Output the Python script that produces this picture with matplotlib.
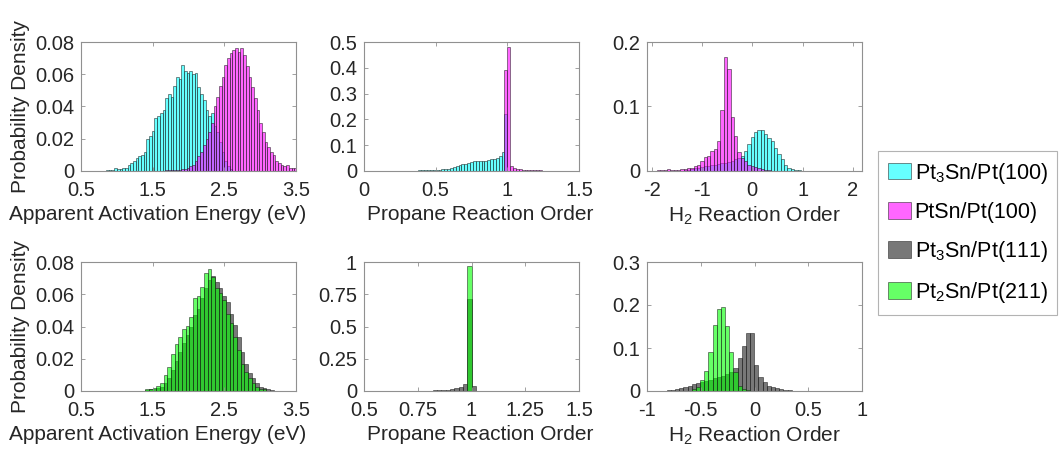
import numpy as np
import matplotlib
matplotlib.use("Agg")
import matplotlib.pyplot as plt
from matplotlib.patches import Patch

plt.rcParams['font.family'] = ['Liberation Sans', 'DejaVu Sans']
plt.rcParams['mathtext.fontset'] = 'custom'
plt.rcParams['mathtext.rm'] = 'Liberation Sans'
plt.rcParams['mathtext.it'] = 'Liberation Sans:italic'

# --- histogram data (bin start, bin width, bar heights) ---
# top row: Pt3Sn/Pt(100) (cyan) vs PtSn/Pt(100) (magenta)
ea_pt3sn100_start, ea_pt3sn100_width = 0.85, 0.0375
ea_pt3sn100 = [0.0005, 0.0005, 0.0005, 0.002, 0.001, 0.001, 0.002, 0.002, 0.004, 0.005,
               0.006, 0.008, 0.009, 0.01, 0.012, 0.02, 0.022, 0.025, 0.033, 0.034,
               0.036, 0.038, 0.045, 0.048, 0.046, 0.053, 0.058, 0.057, 0.066, 0.062,
               0.061, 0.062, 0.06, 0.061, 0.052, 0.048, 0.044, 0.038, 0.034, 0.036,
               0.028, 0.024, 0.018, 0.012, 0.006, 0.003, 0.001]
ea_ptsn100_start, ea_ptsn100_width = 1.675, 0.0375
ea_ptsn100 = [0.0005, 0.0005, 0.0005, 0.0005, 0.0005, 0.0005, 0.001, 0.001, 0.002, 0.003,
              0.004, 0.006, 0.009, 0.012, 0.016, 0.02, 0.024, 0.03, 0.04, 0.046,
              0.053, 0.058, 0.066, 0.07, 0.073, 0.075, 0.076, 0.074, 0.076, 0.072,
              0.065, 0.058, 0.052, 0.045, 0.038, 0.03, 0.024, 0.018, 0.015, 0.012,
              0.01, 0.006, 0.005, 0.004, 0.003, 0.004, 0.002, 0.002, 0.002]

c3h8_pt3sn100_start, c3h8_pt3sn100_width = 0.24, 0.02
c3h8_pt3sn100 = [0.001, 0.0, 0.001, 0.001, 0.001, 0.001, 0.001, 0.002, 0.002, 0.002,
                 0.003, 0.004, 0.004, 0.005, 0.005, 0.006, 0.006, 0.008, 0.01, 0.014,
                 0.018, 0.022, 0.026, 0.028, 0.03, 0.035, 0.038, 0.039, 0.038, 0.039,
                 0.04, 0.041, 0.046, 0.048, 0.05, 0.06, 0.072, 0.22]
c3h8_ptsn100_start, c3h8_ptsn100_width = 0.98, 0.02
c3h8_ptsn100 = [0.39, 0.48, 0.018, 0.012, 0.008, 0.006, 0.005, 0.004, 0.004, 0.003,
                0.003, 0.002, 0.002, 0.001, 0.001, 0.001, 0.001, 0.001, 0.001]

h2_pt3sn100_start, h2_pt3sn100_width = -1.362, 0.0665
h2_pt3sn100 = [0.001, 0.002, 0.003, 0.004, 0.005, 0.006, 0.007, 0.008, 0.009, 0.01,
               0.011, 0.012, 0.013, 0.014, 0.016, 0.018, 0.02, 0.023, 0.031, 0.042,
               0.052, 0.061, 0.064, 0.063, 0.057, 0.051, 0.047, 0.036, 0.026, 0.018,
               0.010, 0.005, 0.003, 0.001, 0.001]
h2_ptsn100_start, h2_ptsn100_width = -1.894, 0.0665
h2_ptsn100 = [0.001, 0.001, 0.002, 0.003, 0.002, 0.002, 0.002, 0.003, 0.003, 0.004,
              0.005, 0.008, 0.01, 0.016, 0.021, 0.023, 0.031, 0.034, 0.047, 0.094,
              0.176, 0.158, 0.083, 0.055, 0.03, 0.02, 0.015, 0.01, 0.008, 0.006,
              0.004, 0.003, 0.002, 0.001]

# bottom row: Pt3Sn/Pt(111) (gray) vs Pt2Sn/Pt(211) (green)
ea_pt3sn111_start, ea_pt3sn111_width = 1.397, 0.0512
ea_pt3sn111 = [0.0005, 0.001, 0.0015, 0.002, 0.0027, 0.0048, 0.0079, 0.013, 0.0186, 0.0244,
               0.030, 0.0347, 0.040, 0.047, 0.051, 0.0575, 0.0637, 0.069, 0.0715, 0.0678,
               0.064, 0.059, 0.0554, 0.048, 0.041, 0.0337, 0.0244, 0.017, 0.011, 0.0079,
               0.0048, 0.0027, 0.0017, 0.0012, 0.0006, 0.0003]
ea_pt2sn211_start, ea_pt2sn211_width = 1.397, 0.0512
ea_pt2sn211 = [0.001, 0.0015, 0.002, 0.003, 0.0048, 0.0099, 0.015, 0.0227, 0.029, 0.0337,
               0.0385, 0.0405, 0.046, 0.0575, 0.059, 0.0647, 0.073, 0.0757, 0.0709, 0.0637,
               0.0606, 0.0565, 0.048, 0.042, 0.0337, 0.0254, 0.017, 0.012, 0.0079, 0.0048,
               0.0027, 0.0015, 0.001]

c3h8_pt3sn111_start, c3h8_pt3sn111_width = 0.66, 0.02
c3h8_pt3sn111 = [0.001, 0.001, 0.001, 0.002, 0.002, 0.002, 0.003, 0.003, 0.004, 0.005,
                 0.007, 0.01, 0.013, 0.02, 0.033, 0.052, 0.713, 0.038]
c3h8_pt2sn211_start, c3h8_pt2sn211_width = 0.98, 0.02
c3h8_pt2sn211 = [0.971]

h2_pt3sn111_start, h2_pt3sn111_width = -0.856, 0.0388
h2_pt3sn111 = [0.001, 0.002, 0.003, 0.005, 0.006, 0.0085, 0.012, 0.016, 0.018, 0.022,
               0.023, 0.026, 0.03, 0.033, 0.036, 0.04, 0.045, 0.053, 0.076, 0.105,
               0.135, 0.135, 0.06, 0.032, 0.022, 0.012, 0.0085, 0.006, 0.004, 0.002,
               0.002, 0.001, 0.001]
h2_pt2sn211_start, h2_pt2sn211_width = -0.5844, 0.0388
h2_pt2sn211 = [0.004, 0.01, 0.026, 0.0465, 0.091, 0.153, 0.191, 0.195, 0.152, 0.09,
               0.045, 0.012, 0.005, 0.002]

legend_labels = ['Pt$_3$Sn/Pt(100)', 'PtSn/Pt(100)', 'Pt$_3$Sn/Pt(111)', 'Pt$_2$Sn/Pt(211)']

# axis settings per panel
xlims = [(0.5, 3.5), (0, 1.5), (-2.09, 2.18), (0.5, 3.5), (0.5, 1.5), (-1, 1)]
xticks = [[0.5, 1.5, 2.5, 3.5], [0, 0.5, 1, 1.5], [-2, -1, 0, 1, 2],
          [0.5, 1.5, 2.5, 3.5], [0.5, 0.75, 1, 1.25, 1.5], [-1, -0.5, 0, 0.5, 1]]
xticklabels = [['0.5', '1.5', '2.5', '3.5'], ['0', '0.5', '1', '1.5'], ['-2', '-1', '0', '1', '2'],
               ['0.5', '1.5', '2.5', '3.5'], ['0.5', '0.75', '1', '1.25', '1.5'],
               ['-1', '-0.5', '0', '0.5', '1']]
ylims = [(0, 0.08), (0, 0.5), (0, 0.2), (0, 0.08), (0, 1), (0, 0.3)]
yticks = [[0, 0.02, 0.04, 0.06, 0.08], [0, 0.1, 0.2, 0.3, 0.4, 0.5], [0, 0.1, 0.2],
          [0, 0.02, 0.04, 0.06, 0.08], [0, 0.25, 0.5, 0.75, 1], [0, 0.1, 0.2, 0.3]]
yticklabels = [['0', '0.02', '0.04', '0.06', '0.08'], ['0', '0.1', '0.2', '0.3', '0.4', '0.5'],
               ['0', '0.1', '0.2'], ['0', '0.02', '0.04', '0.06', '0.08'],
               ['0', '0.25', '0.5', '0.75', '1'], ['0', '0.1', '0.2', '0.3']]
xlabels = ['Apparent Activation Energy (eV)', 'Propane Reaction Order', 'H$_2$ Reaction Order'] * 2
# horizontal centre of each column's x label (axes fraction); the first one sits left of centre
xlabel_x = [0.355, 0.54, 0.5]

# colours (MATLAB-like with face alpha 0.6)
cyan = (0.0, 1.0, 1.0, 0.6)
magenta = (1.0, 0.0, 1.0, 0.6)
gray = (0.12, 0.12, 0.12, 0.6)
green = (0.0, 1.0, 0.0, 0.6)
edge = (0.1, 0.1, 0.1, 0.6)
text_col = '#262626'

W, H = 1061, 454
fig = plt.figure(figsize=(W / 100, H / 100), dpi=100)

# axes boxes in pixels: left, top, width, height
lefts = [81, 364, 647]
tops = [42, 262]
aw, ah = 215, 129

axes = []
for r in range(2):
    for c in range(3):
        ax = fig.add_axes([lefts[c] / W, 1 - (tops[r] + ah) / H, aw / W, ah / H])
        axes.append(ax)


def draw_hist(ax, start, width, heights, color):
    edges = start + width * np.arange(len(heights))
    ax.bar(edges, heights, width=width, align='edge', color=color,
           edgecolor=edge, linewidth=0.6)


series = [
    [(ea_pt3sn100_start, ea_pt3sn100_width, ea_pt3sn100, cyan),
     (ea_ptsn100_start, ea_ptsn100_width, ea_ptsn100, magenta)],
    [(c3h8_pt3sn100_start, c3h8_pt3sn100_width, c3h8_pt3sn100, cyan),
     (c3h8_ptsn100_start, c3h8_ptsn100_width, c3h8_ptsn100, magenta)],
    [(h2_pt3sn100_start, h2_pt3sn100_width, h2_pt3sn100, cyan),
     (h2_ptsn100_start, h2_ptsn100_width, h2_ptsn100, magenta)],
    [(ea_pt3sn111_start, ea_pt3sn111_width, ea_pt3sn111, gray),
     (ea_pt2sn211_start, ea_pt2sn211_width, ea_pt2sn211, green)],
    [(c3h8_pt3sn111_start, c3h8_pt3sn111_width, c3h8_pt3sn111, gray),
     (c3h8_pt2sn211_start, c3h8_pt2sn211_width, c3h8_pt2sn211, green)],
    [(h2_pt3sn111_start, h2_pt3sn111_width, h2_pt3sn111, gray),
     (h2_pt2sn211_start, h2_pt2sn211_width, h2_pt2sn211, green)],
]

for i, ax in enumerate(axes):
    for start, width, heights, color in series[i]:
        draw_hist(ax, start, width, heights, color)
    ax.set_xlim(*xlims[i])
    ax.set_ylim(*ylims[i])
    ax.set_xticks(xticks[i])
    ax.set_xticklabels(xticklabels[i])
    ax.set_yticks(yticks[i])
    ax.set_yticklabels(yticklabels[i])
    ax.tick_params(direction='in', length=3, width=0.6, top=True, right=True,
                   colors='#909090', labelcolor=text_col, labelsize=14.5)
    ax.tick_params(axis='x', pad=7)
    ax.tick_params(axis='y', pad=5)
    for sp in ax.spines.values():
        sp.set_color('#909090')
        sp.set_linewidth(0.8)
    ax.set_xlabel(xlabels[i], fontsize=15, color=text_col)
    ax.xaxis.set_label_coords(xlabel_x[i % 3], -0.26)
    if i % 3 == 0:
        ax.set_ylabel('Probability Density', fontsize=15, color=text_col)
        ax.yaxis.set_label_coords(-0.235, 0.5)

# legend on the right
handles = [Patch(facecolor=c, edgecolor=edge, linewidth=0.6) for c in [cyan, magenta, gray, green]]
leg = fig.legend(handles, legend_labels, loc='upper left', bbox_to_anchor=(878 / W, 1 - 151 / H),
                 fontsize=15.5, frameon=True, fancybox=False, handlelength=1.1, handleheight=0.8,
                 handletextpad=0.15, borderpad=0.45, labelspacing=0.75, borderaxespad=0)
leg.get_frame().set_edgecolor('#a0a0a0')
leg.get_frame().set_linewidth(0.8)
for t in leg.get_texts():
    t.set_color('#000000')

plt.savefig('out.png', dpi=100)
